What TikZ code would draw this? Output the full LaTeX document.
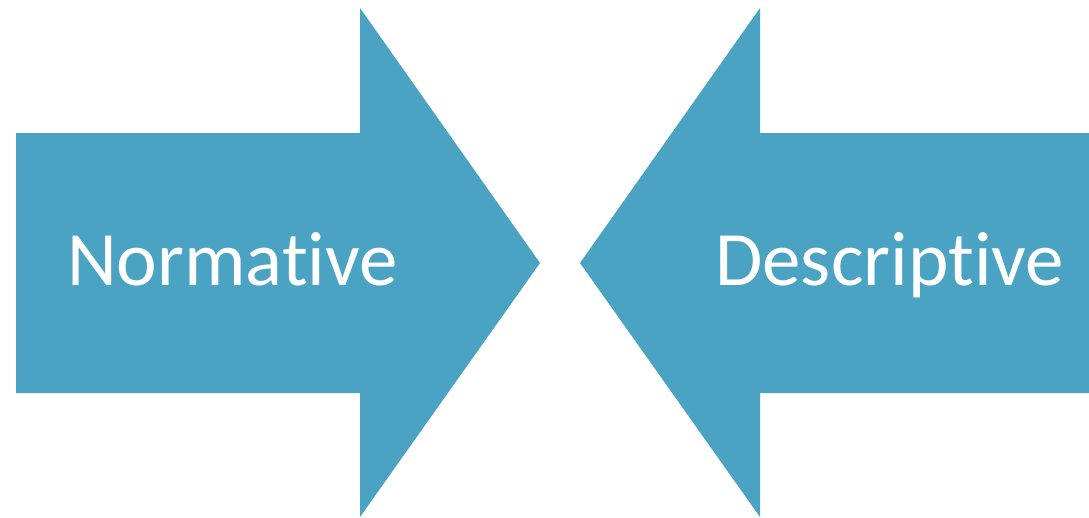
\documentclass[tikz,border=0pt]{standalone}
\usepackage{fontspec}
\setmainfont{Carlito}[Ligatures={NoCommon,NoContextual}]
\definecolor{arrowblue}{RGB}{75,163,196}
\tikzset{arrowfill/.style = {fill = arrowblue, draw = none},
  arrowtext/.style = {text = white, inner sep = 0pt, anchor = base west, font = \fontsize{77}{90}\selectfont}}

\begin{document}
\begin{tikzpicture}[x=1pt, y=-1pt]
\useasboundingbox (0,0) rectangle (1089,517);
\fill[arrowfill] (16,133) -- (360,133) -- (360,8) -- (540,263) -- (360,517) -- (360,393) -- (16,393) -- cycle;
\fill[arrowfill] (1089,133) -- (760,133) -- (760,8) -- (580,263) -- (760,517) -- (760,393) -- (1089,393) -- cycle;
\node[arrowtext] (norm) at (67,285) {Normative};
\node[arrowtext] (desc) at (715,285) {Descriptive};
\end{tikzpicture}
\end{document}
